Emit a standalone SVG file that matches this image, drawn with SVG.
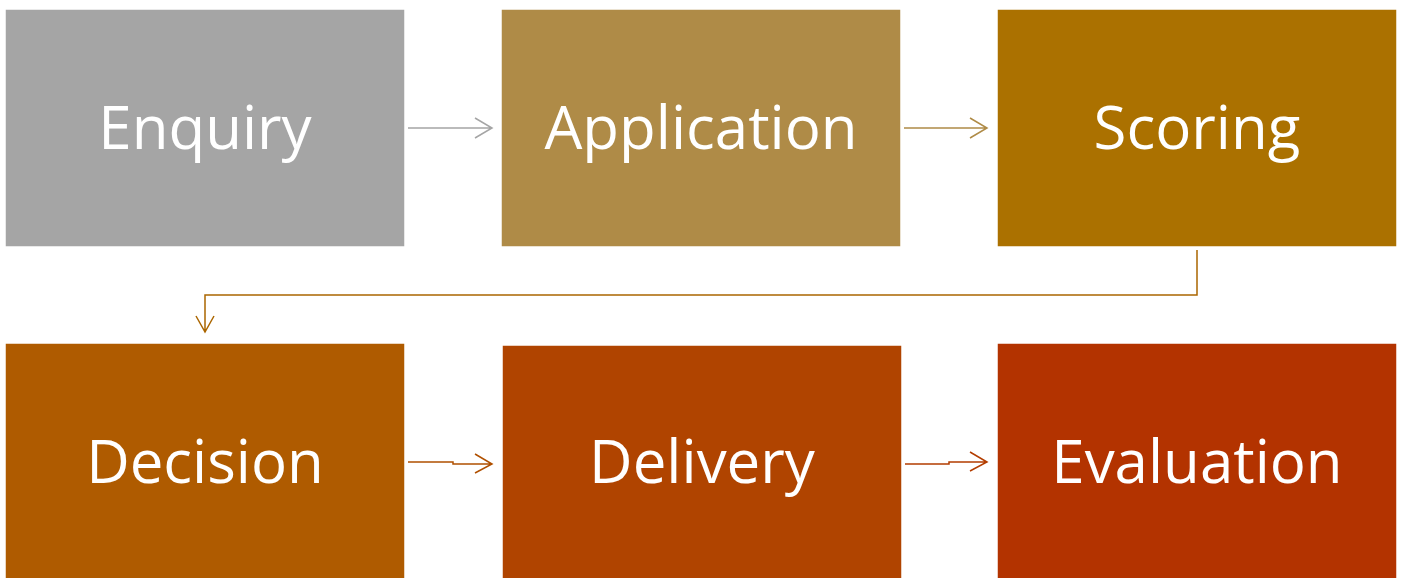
<svg xmlns="http://www.w3.org/2000/svg" width="1403" height="578" viewBox="0 0 1403 578">
<style>
.box{stroke:#ffffff;stroke-width:1.5}
.lbl{font-family:"Open Sans","Liberation Sans",sans-serif;font-size:60px;fill:#ffffff;text-anchor:middle}
.con{fill:none;stroke-width:1.5}
</style>
<rect width="1403" height="578" fill="#ffffff"/>
<g id="connectors">
<path class="con" stroke="#A5A5A5" d="M408 128H492M475 118L492 128L475 138"/>
<path class="con" stroke="#AF8B47" d="M904 128H987M970 118L987 128L970 138"/>
<path class="con" stroke="#AB6600" d="M1197 250V295H205V332M196 316L205 332L214 316"/>
<path class="con" stroke="#B05000" d="M408 462H453V464H492M475 454L492 464L475 473"/>
<path class="con" stroke="#B33D00" d="M905 464H949V462H987M970 452L987 462L970 471"/>
</g>
<g id="enquiry"><rect class="box" x="5" y="9" width="400" height="238" fill="#A5A5A5"/><text class="lbl" x="205" y="149">Enquiry</text></g>
<g id="application"><rect class="box" x="501" y="9" width="400" height="238" fill="#AF8B47"/><text class="lbl" x="701" y="149">Application</text></g>
<g id="scoring"><rect class="box" x="997" y="9" width="400" height="238" fill="#AB7100"/><text class="lbl" x="1197" y="149">Scoring</text></g>
<g id="decision"><rect class="box" x="5" y="343" width="400" height="240" fill="#AF5B00"/><text class="lbl" x="205" y="483">Decision</text></g>
<g id="delivery"><rect class="box" x="502" y="345" width="400" height="238" fill="#B04400"/><text class="lbl" x="702" y="483">Delivery</text></g>
<g id="evaluation"><rect class="box" x="997" y="343" width="400" height="240" fill="#B33300"/><text class="lbl" x="1197" y="483">Evaluation</text></g>
</svg>
